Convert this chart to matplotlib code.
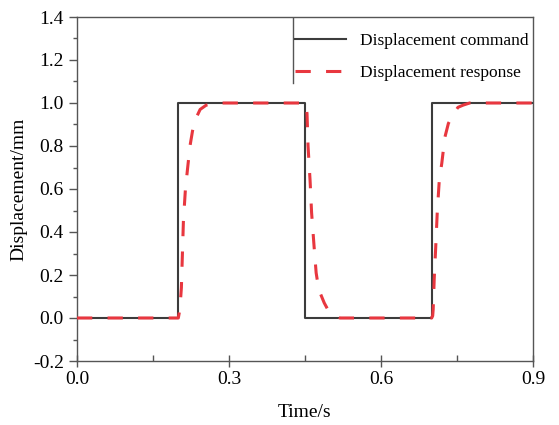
import matplotlib
matplotlib.use("Agg")
import matplotlib.pyplot as plt
from matplotlib.ticker import MultipleLocator

# Command signal (step changes)
cmd_t = [0.0, 0.2, 0.2, 0.45, 0.45, 0.7, 0.7, 0.9]
cmd_y = [0.0, 0.0, 1.0, 1.0, 0.0, 0.0, 1.0, 1.0]

resp_t = [0.0, 0.2, 0.203, 0.206, 0.21, 0.214, 0.218, 0.223, 0.228, 0.233, 0.243, 0.255, 0.275,
          0.45, 0.452, 0.454, 0.456, 0.46, 0.463, 0.468, 0.472, 0.476, 0.481, 0.488, 0.496, 0.505, 0.519,
          0.7, 0.702, 0.703, 0.705, 0.708, 0.711, 0.715, 0.72, 0.726, 0.733, 0.743, 0.752, 0.762, 0.775, 0.9]
resp_y = [0.0, 0.0, 0.04, 0.14, 0.45, 0.6, 0.69, 0.8, 0.87, 0.92, 0.97, 0.99, 1.0,
          1.0, 0.99, 0.95, 0.8, 0.64, 0.49, 0.33, 0.21, 0.15, 0.11, 0.07, 0.035, 0.015, 0.0,
          0.0, 0.01, 0.04, 0.18, 0.33, 0.49, 0.64, 0.72, 0.84, 0.905, 0.95, 0.98, 0.99, 1.0, 1.0]

x_ticks = [0.0, 0.3, 0.6, 0.9]
y_ticks = [-0.2, 0.0, 0.2, 0.4, 0.6, 0.8, 1.0, 1.2, 1.4]

plt.rcParams['font.family'] = ['Liberation Serif', 'DejaVu Serif']

fig = plt.figure(figsize=(5.59, 4.25), dpi=100)
ax = fig.add_axes([77/559, 1-361/425, (533-77)/559, (361-17)/425])

ax.plot(cmd_t, cmd_y, color='#3c3c3c', lw=1.5, label='Displacement command', zorder=2)
ax.plot(resp_t, resp_y, color='#e8373f', lw=2.2, dashes=(5, 5), label='Displacement response', zorder=3)

ax.set_xlim(0, 0.9)
ax.set_ylim(-0.2, 1.4)
ax.set_xticks(x_ticks)
ax.set_xticklabels([f"{v:.1f}" for v in x_ticks])
ax.set_yticks(y_ticks)
ax.set_yticklabels([f"{v:.1f}" for v in y_ticks])
ax.xaxis.set_minor_locator(MultipleLocator(0.15))
ax.yaxis.set_minor_locator(MultipleLocator(0.1))
ax.tick_params(axis='x', which='major', direction='inout', length=8, width=1, labelsize=14, pad=3, color='#555555')
ax.tick_params(axis='x', which='minor', direction='in', length=4, width=1, color='#555555')
ax.tick_params(axis='y', which='major', direction='out', length=6, width=1, labelsize=14, color='#555555')
ax.tick_params(axis='y', which='minor', direction='out', length=3, width=1, color='#555555')
for s in ax.spines.values():
    s.set_color('#555555')
    s.set_linewidth(1.0)

ax.set_xlabel('Time/s', fontsize=14, labelpad=12)
ax.set_ylabel('Displacement/mm', fontsize=14, labelpad=4)

# legend partial frame line
ax.plot([0.426, 0.426], [1.093, 1.4], color='#555555', lw=1.0, zorder=1)
leg = ax.legend(loc='upper right', bbox_to_anchor=(1.029, 1.005), frameon=False, fontsize=12.5,
                handlelength=2.95, handletextpad=0.8, labelspacing=0.95, borderaxespad=0.6)

fig.savefig('out.png', dpi=100)
